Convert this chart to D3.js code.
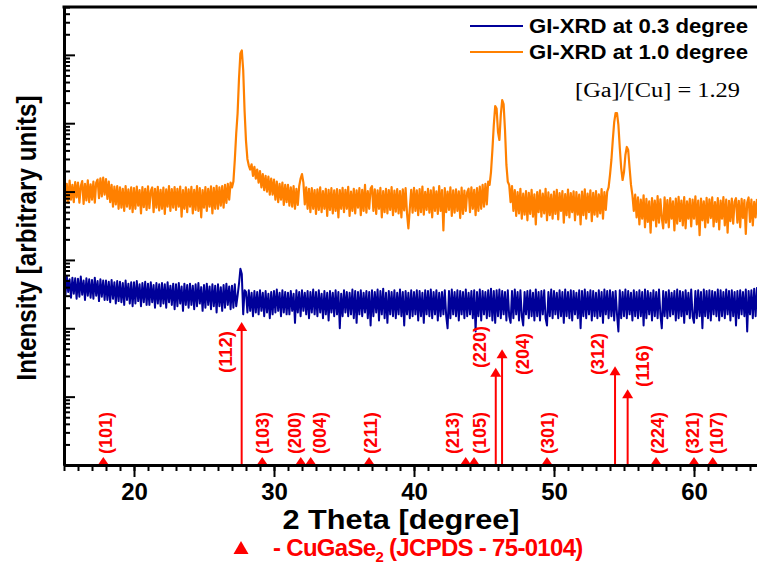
<!DOCTYPE html>
<html><head><meta charset="utf-8">
<script src="https://cdn.jsdelivr.net/npm/d3@7"></script>
<style>body{margin:0;background:#fff}svg{display:block}</style>
</head><body>
<svg id="chart" width="757" height="565"></svg>
<script>
// ---------- DATA ----------
const angleStart = 15.0, angleStep = 0.1;   // 2-theta sampling grid (degrees)
// GI-XRD at 1.0 degree (arbitrary counts), one row per degree
const xrd10 = [
 1400,720,1300,680,1450,760,1250,700,1380,820,
 1350,690,1200,1420,660,1300,740,1460,700,1280,
 760,1400,690,1350,1500,800,1560,850,1600,900,
 1520,780,1400,700,1250,600,1180,650,1200,560,
 1150,580,1100,520,1200,600,1080,560,1150,500,
 1120,560,1180,620,1050,480,1160,590,1100,540,
 1190,570,1020,1150,500,1100,580,1170,530,1060,
 560,1140,470,1080,600,1200,520,1090,580,1160,
 540,1100,600,1180,430,1050,560,1150,500,1080,
 600,1170,480,1060,540,1200,520,1120,420,1050,
 580,1160,520,1100,600,1190,480,1130,560,1210,
 560,1150,620,1200,580,1250,680,1300,760,1350,
 1150,1400,2900,7000,14000,45000,105000,116000,60000,15000,
 5500,3000,2400,2100,2500,1700,2300,1550,2100,1350,
 2000,1150,1800,1050,1700,1000,1650,900,1550,900,
 1500,760,1400,700,1300,760,1350,640,1250,700,
 1250,620,1150,600,1200,560,1100,640,1200,1550,
 1800,1350,650,1150,560,1100,500,1120,560,1050,
 470,1080,540,1150,500,1020,560,1100,440,1060,
 540,1120,480,1040,520,1090,420,1050,560,1130,
 500,1060,560,1170,440,1000,520,1100,480,1040,
 580,1120,450,1060,520,1250,490,1020,560,1110,
 1200,520,1080,470,1040,560,1130,420,1020,500,
 1100,480,1050,540,1160,450,1030,510,1090,480,
 1020,420,1080,530,1120,480,290,560,1060,490,
 1130,520,1040,450,1090,500,1180,460,990,540,
 1100,490,1040,420,1150,520,1010,470,1200,520,
 1050,270,1120,500,1000,540,1150,440,1040,490,
 1080,520,1010,410,1140,470,1030,520,980,1100,
 500,1150,560,1060,450,1120,520,1180,560,1250,
 600,1300,650,1400,1250,1930,4050,9420,17850,16400,
 7430,5680,13270,21800,19100,7950,2450,1390,1250,700,
 1200,520,1050,440,980,480,1100,400,930,460,
 1020,380,960,470,1060,430,910,330,980,500,
 1040,430,930,480,1100,380,970,450,900,400,
 1000,470,1060,390,950,520,1020,350,920,450,
 1070,420,950,500,1010,380,980,460,900,330,
 1000,450,1080,400,930,500,1040,370,960,460,
 1020,430,910,480,1090,400,980,540,1000,1150,
 1750,2900,5680,10400,14100,14100,9420,4340,2210,1476,
 1930,3430,4490,4050,2210,1250,890,520,900,420,
 820,330,760,400,880,300,780,360,720,250,
 800,380,740,310,860,350,770,410,290,820,
 350,750,300,800,400,720,270,790,340,840,
 370,740,320,830,290,720,400,780,310,760,
 400,850,330,740,230,790,380,720,300,810,
 350,770,410,820,310,700,360,800,280,740,
 400,830,320,760,250,730,370,790,340,710,
 800,350,730,300,780,410,750,240,690,820,
 360,760,320,710,420,780
];
// GI-XRD at 0.3 degree
const xrd03 = [
 56,30,58,34,52,28,55,32,54,27,
 53,29,57,31,50,26,54,30,52,28,
 51,27,55,30,49,25,52,29,50,26,
 50,26,48,24,51,27,47,23,49,25,
 48,24,46,22,50,26,45,23,47,21,
 47,23,49,25,44,21,46,24,48,22,
 45,22,47,24,43,20,46,23,44,21,
 46,23,44,20,47,24,42,22,45,19,
 44,21,46,23,41,18,45,22,43,20,
 45,22,42,19,44,21,46,23,40,18,
 43,20,45,22,41,19,44,21,42,17,
 44,21,40,18,43,20,45,22,41,19,
 42,20,44,21,30,45,74,62,16,36,
 34,17,36,18,33,15,35,17,34,16,
 36,18,33,15,35,17,32,14,34,16,
 35,17,37,18,33,15,36,17,34,16,
 33,16,35,18,32,12,36,17,34,15,
 36,18,33,16,35,14,34,17,37,16,
 34,15,36,17,32,14,35,16,33,13,
 35,17,33,15,36,16,34,10,32,15,
 36,17,34,15,33,16,37,14,35,12,
 34,16,36,15,33,17,35,14,34,11,
 36,15,34,17,37,13,35,16,38,14,
 33,12,35,16,34,15,36,14,33,16,
 37,15,34,11,35,16,33,14,36,15,
 34,16,36,13,35,15,33,12,36,16,
 35,15,37,14,34,16,36,13,33,15,
 34,16,36,15,10,35,14,37,16,34,
 15,36,13,35,16,34,14,37,15,33,
 16,35,14,36,9,34,15,37,13,35,
 16,34,14,36,15,38,13,35,12,36,
 15,37,14,35,16,34,13,36,15,12,
 35,14,37,16,34,13,36,15,11,34,
 16,35,14,36,15,33,13,37,15,34,
 13,35,16,36,14,11,34,15,37,14,
 35,16,33,14,36,15,34,12,37,15,
 34,14,36,13,35,16,33,14,36,10,
 35,15,37,14,34,16,36,13,35,15,
 33,14,36,15,34,12,37,16,35,14,
 36,15,34,13,35,16,9,36,14,34,
 15,37,14,35,16,33,13,36,15,34,
 14,36,15,34,11,37,14,35,16,33,
 13,36,15,34,14,37,16,10,35,15,
 34,14,36,15,33,16,35,13,37,14,
 35,15,34,12,36,16,33,14,37,15,
 12,35,14,36,15,34,10,37,15,35,
 14,36,13,35,16,34,15,37,13,36,
 15,34,14,37,16,35,13,36,15,34,
 11,35,14,36,16,34,15,37,9,35,
 16,36,14,38,15,40
];
const seriesNames = ["GI-XRD at 0.3 degree", "GI-XRD at 1.0 degree"];
// CuGaSe2 reference (JCPDS 75-0104)
const refHkl       = ["(101)","(112)","(103)","(200)","(004)","(211)","(213)","(105)","(220)","(204)","(301)","(312)","(116)","(224)","(321)","(107)"];
const refAngle     = [17.81, 27.69, 29.16, 31.91, 32.62, 36.79, 43.69, 44.29, 45.84, 46.29, 49.5, 54.36, 55.26, 57.29, 60.0, 61.34];
const refIntensity = [5, 100, 5, 5, 5, 5, 5, 5, 68, 81, 5, 69, 53, 5, 5, 5];
const xTickLabels  = [20, 30, 40, 50, 60];
const ratioText = "[Ga]/[Cu] = 1.29";

// ---------- LAYOUT ----------
const L = 64, R = 757, T = 7, B = 465;
const svg = d3.select("#chart");
const x = d3.scaleLinear().domain([15, 64.5]).range([L, R]);
const y = d3.scaleLog().domain([0.1, Math.pow(10, 5.7)]).range([B, T]);
const yRef = d3.scaleLinear().domain([0, 100]).range([B, 322]);
const angles = xrd10.map((_, i) => +(angleStart + i * angleStep).toFixed(2));

svg.append("clipPath").attr("id", "plot").append("rect")
  .attr("x", L).attr("y", T).attr("width", R - L).attr("height", B - T);

const line = d3.line().x((d, i) => x(angles[i])).y(d => y(d));
const colors = ["#000099", "#FF8000"];
svg.append("path").datum(xrd10).attr("d", line).attr("clip-path", "url(#plot)")
  .attr("fill", "none").attr("stroke", colors[1]).attr("stroke-width", 2.2).attr("stroke-linejoin", "round");
svg.append("path").datum(xrd03).attr("d", line).attr("clip-path", "url(#plot)")
  .attr("fill", "none").attr("stroke", colors[0]).attr("stroke-width", 2).attr("stroke-linejoin", "round");

// reference markers
const red = "#FF0000";
const labelLayout = {
  "(101)": [2, 454], "(112)": [-17, 373], "(103)": [0, 454], "(200)": [-7, 454], "(004)": [8, 454],
  "(211)": [1, 454], "(213)": [-14, 454], "(105)": [5, 454], "(220)": [-17, 368], "(204)": [20, 375],
  "(301)": [0, 454], "(312)": [-18, 375], "(116)": [15, 387], "(224)": [1, 454], "(321)": [-2, 454], "(107)": [3, 454]
};
const refG = svg.append("g");
refHkl.forEach((h, i) => {
  const cx = x(refAngle[i]);
  if (refIntensity[i] >= 20) {
    const top = yRef(refIntensity[i]);
    refG.append("line").attr("x1", cx).attr("x2", cx).attr("y1", B).attr("y2", top + 6)
      .attr("stroke", red).attr("stroke-width", 2);
    refG.append("path").attr("d", `M${cx},${top}L${cx - 5.5},${top + 9}L${cx + 5.5},${top + 9}Z`).attr("fill", red);
  } else {
    refG.append("path").attr("d", `M${cx},${B - 8}L${cx - 5.5},${B}L${cx + 5.5},${B}Z`).attr("fill", red);
  }
  const [dx, by] = labelLayout[h];
  refG.append("text").attr("transform", `translate(${cx + dx},${by}) rotate(-90)`)
    .attr("dy", "0.36em").attr("fill", red).attr("font-family", "Liberation Sans, Arial, sans-serif")
    .attr("font-weight", "bold").attr("font-size", 19).attr("textLength", 42).attr("lengthAdjust", "spacingAndGlyphs")
    .text(h);
});

// axes
const font = "Liberation Sans, Arial, sans-serif";
const xMinor = d3.axisBottom(x).tickValues(d3.range(15, 65, 1)).tickSize(6).tickSizeOuter(0).tickFormat("");
const xMajor = d3.axisBottom(x).tickValues(xTickLabels).tickSize(12).tickSizeOuter(0).tickPadding(6).tickFormat(d3.format("d"));
const gxm = svg.append("g").attr("transform", `translate(0,${B})`).call(xMinor);
const gx = svg.append("g").attr("transform", `translate(0,${B})`).call(xMajor);
[gxm, gx].forEach(g => { g.selectAll("line").attr("stroke", "#000").attr("stroke-width", 2); g.select(".domain").attr("stroke", "#000").attr("stroke-width", 3); });
gx.selectAll("text").attr("font-family", font).attr("font-weight", "bold").attr("font-size", 24).attr("fill", "#000");

const yMajorVals = [], yMinorVals = [];
for (let k = -1; k <= 5; k++) for (let m = 1; m <= 9; m++) {
  const v = m * Math.pow(10, k);
  if (v <= Math.pow(10, 5.7)) (m === 1 ? yMajorVals : yMinorVals).push(v);
}
const gyMinor = svg.append("g").attr("transform", `translate(${L},0)`)
  .call(d3.axisRight(y).tickValues(yMinorVals).tickSize(6).tickSizeOuter(0).tickFormat(""));
const gyMajor = svg.append("g").attr("transform", `translate(${L},0)`)
  .call(d3.axisRight(y).tickValues(yMajorVals).tickSize(11).tickSizeOuter(0).tickFormat(""));
[gyMinor, gyMajor].forEach(g => { g.selectAll("line").attr("stroke", "#000").attr("stroke-width", 2); g.select(".domain").attr("stroke", "#000").attr("stroke-width", 3); });
svg.append("line").attr("x1", L - 1.5).attr("x2", R).attr("y1", T).attr("y2", T).attr("stroke", "#000").attr("stroke-width", 3);

// axis titles
svg.append("text").attr("x", 401).attr("y", 529).attr("text-anchor", "middle")
  .attr("font-family", font).attr("font-weight", "bold").attr("font-size", 28)
  .attr("textLength", 237).attr("lengthAdjust", "spacingAndGlyphs").text("2 Theta [degree]");
svg.append("text").attr("transform", "translate(36,238) rotate(-90)").attr("text-anchor", "middle")
  .attr("font-family", font).attr("font-weight", "bold").attr("font-size", 28)
  .attr("textLength", 285).attr("lengthAdjust", "spacingAndGlyphs").text("Intensity [arbitrary units]");

// legend
const legY = [26, 52];
seriesNames.forEach((n, i) => {
  svg.append("line").attr("x1", 470).attr("x2", 523).attr("y1", legY[i]).attr("y2", legY[i]).attr("stroke", colors[i]).attr("stroke-width", 2);
  svg.append("text").attr("x", 529).attr("y", legY[i] + 7).attr("font-family", font).attr("font-weight", "bold")
    .attr("font-size", 20).attr("textLength", 219).attr("lengthAdjust", "spacingAndGlyphs").text(n);
});
svg.append("text").attr("x", 575).attr("y", 97).attr("font-family", "Liberation Serif, Times New Roman, serif")
  .attr("font-size", 20).attr("textLength", 165).attr("lengthAdjust", "spacingAndGlyphs").text(ratioText);

// caption
svg.append("path").attr("d", "M241,541L233.5,554L248.5,554Z").attr("fill", red);
const cap = svg.append("text").attr("x", 273).attr("y", 556).attr("fill", red).attr("font-family", font)
  .attr("font-weight", "bold").attr("font-size", 24).attr("letter-spacing", -0.7);
cap.append("tspan").text("- CuGaSe");
cap.append("tspan").attr("font-size", 15).attr("dy", 6).text("2");
cap.append("tspan").attr("dy", -6).text(" (JCPDS - 75-0104)");
</script>
</body></html>
